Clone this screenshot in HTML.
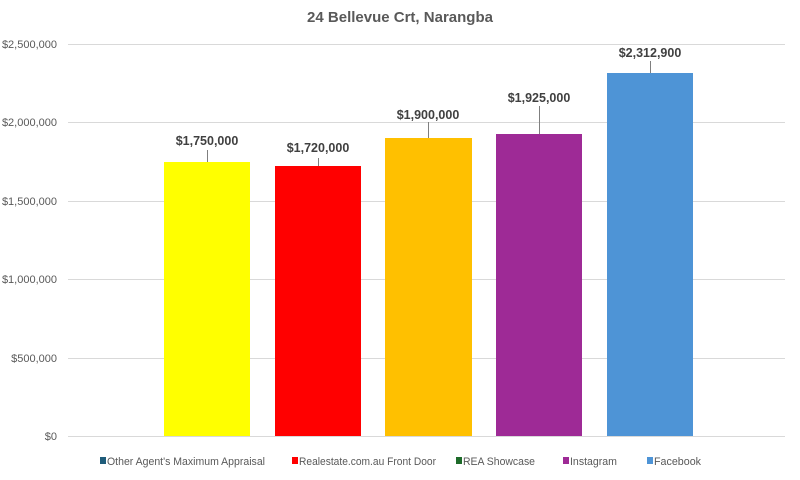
<!DOCTYPE html>
<html><head><style>
body{margin:0;background:#fff;}
svg text{font-family:"Liberation Sans",sans-serif;}
</style></head><body>
<svg width="800" height="475" xmlns="http://www.w3.org/2000/svg">
<rect width="800" height="475" fill="#fff"/>
<text x="400" y="22" text-anchor="middle" font-size="15" font-weight="bold" fill="#595959">24 Bellevue Crt, Narangba</text>
<g stroke="#d9d9d9" stroke-width="1">
<line x1="68" x2="785" y1="44.5" y2="44.5"/>
<line x1="68" x2="785" y1="122.5" y2="122.5"/>
<line x1="68" x2="785" y1="201.5" y2="201.5"/>
<line x1="68" x2="785" y1="279.5" y2="279.5"/>
<line x1="68" x2="785" y1="358.5" y2="358.5"/>
<line x1="68" x2="785" y1="436.5" y2="436.5"/>
</g>
<g font-size="11" fill="#595959" text-anchor="end">
<text x="57" y="48">$2,500,000</text>
<text x="57" y="126">$2,000,000</text>
<text x="57" y="205">$1,500,000</text>
<text x="57" y="283">$1,000,000</text>
<text x="57" y="362">$500,000</text>
<text x="57" y="440">$0</text>
</g>
<rect x="164" y="162" width="86" height="274" fill="#ffff00"/>
<rect x="275" y="166" width="86" height="270" fill="#ff0000"/>
<rect x="385" y="138" width="87" height="298" fill="#ffc000"/>
<rect x="496" y="134" width="86" height="302" fill="#9e2a96"/>
<rect x="607" y="73" width="86" height="363" fill="#4e94d6"/>
<g stroke="#7f7f7f" stroke-width="1">
<line x1="207.5" x2="207.5" y1="150" y2="162"/>
<line x1="318.5" x2="318.5" y1="158" y2="166"/>
<line x1="428.5" x2="428.5" y1="122" y2="138"/>
<line x1="539.5" x2="539.5" y1="106" y2="134"/>
<line x1="650.5" x2="650.5" y1="61" y2="73"/>
</g>
<g font-size="12.5" font-weight="bold" fill="#404040" text-anchor="middle">
<text x="207" y="145">$1,750,000</text>
<text x="318" y="152">$1,720,000</text>
<text x="428" y="119">$1,900,000</text>
<text x="539" y="102">$1,925,000</text>
<text x="650" y="57">$2,312,900</text>
</g>
<g font-size="11" fill="#595959">
<rect x="100" y="457" width="6" height="7" fill="#1f5c7a"/>
<text x="107" y="465" textLength="158" lengthAdjust="spacingAndGlyphs">Other Agent's Maximum Appraisal</text>
<rect x="292" y="457" width="6" height="7" fill="#ff0000"/>
<text x="299" y="465" textLength="137" lengthAdjust="spacingAndGlyphs">Realestate.com.au Front Door</text>
<rect x="456" y="457" width="6" height="7" fill="#1e6b2a"/>
<text x="463" y="465" textLength="72" lengthAdjust="spacingAndGlyphs">REA Showcase</text>
<rect x="563" y="457" width="6" height="7" fill="#9e2a96"/>
<text x="570" y="465" textLength="47" lengthAdjust="spacingAndGlyphs">Instagram</text>
<rect x="647" y="457" width="6" height="7" fill="#4e94d6"/>
<text x="654" y="465" textLength="47" lengthAdjust="spacingAndGlyphs">Facebook</text>
</g>
</svg>
</body></html>
